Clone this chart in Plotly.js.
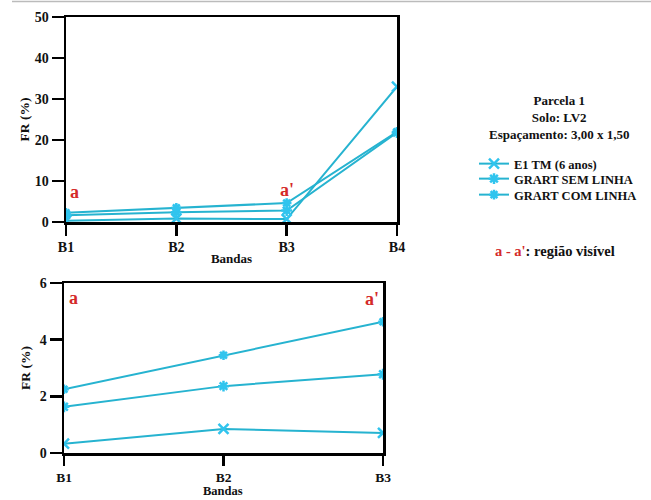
<!DOCTYPE html>
<html>
<head>
<meta charset="utf-8">
<script src="https://cdn.plot.ly/plotly-3.0.1.min.js"></script>
<style>html,body{margin:0;padding:0;background:#fff}#chart{width:651px;height:500px}</style>
</head>
<body>
<div id="chart"></div>
<script>
// Data
const bandsTop = ["B1", "B2", "B3", "B4"];
const bandsBottom = ["B1", "B2", "B3"];
const seriesNames = ["E1 TM (6 anos)", "GRART SEM LINHA", "GRART COM LINHA"];
const e1tm = [0.33, 0.85, 0.71, 33.0];
const grartSem = [1.63, 2.36, 2.78, 21.8];
const grartCom = [2.25, 3.45, 4.63, 22.0];
const headerLines = ["Parcela 1", "Solo: LV2", "Espaçamento: 3,00 x 1,50"];
const xTitle = "Bandas";
const yTitle = "FR (%)";

const lineColor = "#26b3d0";
const markColor = "#30c4ee";
const FONT = "Liberation Serif, Times New Roman, serif";
const symbols = ["x-thin-open", "asterisk-open", "asterisk-open"];
const sizes = [10, 9, 8];
const seriesVals = [e1tm, grartSem, grartCom];
const legendIds = ["legend", "legend2", "legend3"];

const traces = [];
seriesVals.forEach((vals, i) => {
  traces.push({
    x: bandsTop, y: vals, xaxis: "x", yaxis: "y",
    type: "scatter", mode: "lines+markers", name: seriesNames[i],
    line: {color: lineColor, width: 2},
    marker: {symbol: symbols[i], size: sizes[i], color: markColor, line: {color: markColor, width: 2.5}},
    showlegend: true, legend: legendIds[i]
  });
});
seriesVals.forEach((vals, i) => {
  traces.push({
    x: bandsBottom, y: vals.slice(0, bandsBottom.length), xaxis: "x2", yaxis: "y2",
    type: "scatter", mode: "lines+markers", name: seriesNames[i],
    line: {color: lineColor, width: 2},
    marker: {symbol: symbols[i], size: sizes[i], color: markColor, line: {color: markColor, width: 2.5}},
    showlegend: false
  });
});

const W = 651, H = 500;
const px = v => v / W, py = v => 1 - v / H;
const bold = (size) => ({family: FONT, size: size, color: "#111", weight: "bold"});
const axisCommon = {
  showgrid: false, zeroline: false, showline: true, linecolor: "#000", linewidth: 2.5,
  mirror: true, ticks: "outside", tickcolor: "#000", tickwidth: 2.5,
  tickfont: bold(14)
};
const legendBase = (top) => ({
  x: px(474), y: py(top), xanchor: "left", yanchor: "top",
  font: bold(12.5), bgcolor: "rgba(0,0,0,0)", borderwidth: 0
});

const layout = {
  width: W, height: H,
  margin: {l: 0, r: 0, t: 0, b: 0},
  paper_bgcolor: "#fff", plot_bgcolor: "#fff",
  showlegend: true,
  legend: legendBase(149),
  legend2: legendBase(164),
  legend3: legendBase(180),
  xaxis: Object.assign({}, axisCommon, {
    domain: [px(66), px(397)], anchor: "y", type: "category", range: [0, 3], ticklen: 11,
    title: {text: xTitle, font: bold(13), standoff: 0}
  }),
  yaxis: Object.assign({}, axisCommon, {
    domain: [py(222), py(17)], anchor: "x", range: [0, 50], tickvals: [0, 10, 20, 30, 40, 50], ticklen: 12,
    title: {text: yTitle, font: bold(13.5), standoff: 2}
  }),
  xaxis2: Object.assign({}, axisCommon, {
    domain: [px(64), px(383)], anchor: "y2", type: "category", range: [0, 2], ticklen: 10,
    tickfont: bold(13.5)
  }),
  yaxis2: Object.assign({}, axisCommon, {
    domain: [py(453), py(283)], anchor: "x2", range: [0, 6], tickvals: [0, 2, 4, 6], ticklen: 12,
    title: {text: yTitle, font: bold(13.5), standoff: 6}
  }),
  shapes: [
    {type: "line", xref: "paper", yref: "paper", x0: px(12), x1: 1, y0: py(1.5), y1: py(1.5),
     line: {color: "#bbbbbb", width: 1.5}}
  ],
  annotations: [
    {text: xTitle, xref: "paper", yref: "paper", x: px(223), y: py(491),
     xanchor: "center", yanchor: "middle", showarrow: false, font: bold(12.5)},
    {text: headerLines.join("<br>"), xref: "paper", yref: "paper", x: px(559), y: py(91),
     xanchor: "center", yanchor: "top", showarrow: false, align: "center",
     font: bold(13)},
    {text: "<span style='color:#d42a2a'>a - a'</span>: região visível", xref: "paper", yref: "paper",
     x: px(555), y: py(251), xanchor: "center", yanchor: "middle", showarrow: false,
     font: bold(14.5)},
    {text: "a", xref: "paper", yref: "paper", x: px(74), y: py(192), xanchor: "center", yanchor: "middle",
     showarrow: false, font: {family: FONT, size: 18, color: "#d42a2a", weight: "bold"}},
    {text: "a'", xref: "paper", yref: "paper", x: px(287), y: py(190), xanchor: "center", yanchor: "middle",
     showarrow: false, font: {family: FONT, size: 18, color: "#d42a2a", weight: "bold"}},
    {text: "a", xref: "paper", yref: "paper", x: px(73), y: py(298), xanchor: "center", yanchor: "middle",
     showarrow: false, font: {family: FONT, size: 18, color: "#d42a2a", weight: "bold"}},
    {text: "a'", xref: "paper", yref: "paper", x: px(372), y: py(299), xanchor: "center", yanchor: "middle",
     showarrow: false, font: {family: FONT, size: 18, color: "#d42a2a", weight: "bold"}}
  ]
};

Plotly.newPlot("chart", traces, layout, {displayModeBar: false, staticPlot: true});
</script>
</body>
</html>
